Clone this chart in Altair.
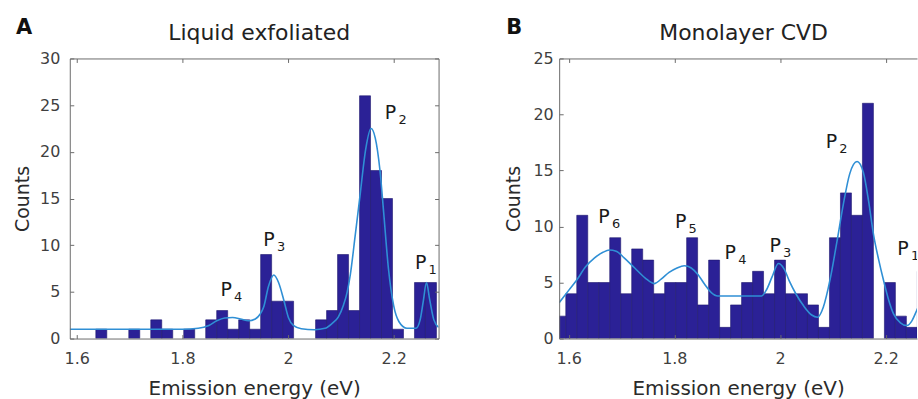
import altair as alt
import pandas as pd

FONT = "DejaVu Sans"
BAR = "#2B2196"
BAR_EDGE = "#1E176F"
FIT = "#2F8FD5"
FRAME = "#6B6B6B"

# Histogram bins shared by both samples (left edges, eV)
bin_width = 0.0208
bin_left = [1.5737, 1.5945, 1.6153, 1.6361, 1.6569, 1.6777, 1.6985, 1.7193,
            1.7401, 1.7609, 1.7817, 1.8025, 1.8233, 1.8441, 1.8649, 1.8857,
            1.9065, 1.9273, 1.9481, 1.9689, 1.9897, 2.0105, 2.0313, 2.0521,
            2.0729, 2.0937, 2.1145, 2.1353, 2.1561, 2.1769, 2.1977, 2.2185,
            2.2393, 2.2601]

# Counts per bin
counts_liquid = [0, 0, 0, 1, 0, 0, 1, 0, 2, 1, 0, 1, 0, 2, 3, 1, 2,
                 1, 9, 4, 4, 0, 0, 2, 3, 9, 3, 26, 18, 15, 1, 0, 6, 6]
counts_cvd = [2, 4, 11, 5, 5, 9, 4, 8, 7, 4, 5, 5, 9, 3, 7, 1, 3,
              5, 6, 4, 7, 4, 4, 3, 1, 9, 13, 11, 21, 0, 5, 2, 1, 6]

# Multi-peak fit curves
fit_liquid_e = [1.587, 1.80, 1.83, 1.85, 1.865, 1.88, 1.895, 1.91, 1.925, 1.938,
                1.947, 1.954, 1.963, 1.973, 1.982, 1.992, 2.001, 2.01, 2.025, 2.05,
                2.07, 2.083, 2.095, 2.105, 2.112, 2.118, 2.127, 2.136, 2.147, 2.157,
                2.165, 2.174, 2.181, 2.19, 2.2, 2.21, 2.225, 2.242, 2.25, 2.256,
                2.262, 2.268, 2.276, 2.285]
fit_liquid_c = [1.0, 1.0, 1.1, 1.4, 1.9, 2.2, 2.25, 2.1, 1.9, 2.1,
                2.6, 3.4, 5.6, 6.8, 6.0, 4.1, 2.2, 1.4, 1.05, 0.95,
                1.1, 1.6, 2.3, 3.6, 5.0, 6.9, 11.0, 15.2, 20.3, 22.5,
                21.5, 18.0, 13.5, 7.5, 3.5, 1.8, 1.1, 1.1, 2.0, 4.0,
                6.0, 4.2, 2.0, 1.2]

fit_cvd_e = [1.582, 1.600, 1.615, 1.632, 1.649, 1.665, 1.677, 1.690, 1.705, 1.725,
             1.745, 1.762, 1.775, 1.790, 1.805, 1.819, 1.832, 1.845, 1.858, 1.870,
             1.882, 1.965, 1.975, 1.985, 1.997, 2.008, 2.018, 2.030, 2.045, 2.060,
             2.071, 2.082, 2.095, 2.108, 2.120, 2.132, 2.146, 2.158, 2.168, 2.177,
             2.187, 2.196, 2.206, 2.215, 2.228, 2.240, 2.250, 2.256, 2.265]
fit_cvd_c = [3.2, 4.3, 5.2, 6.4, 7.2, 7.7, 7.9, 7.8, 7.2, 6.3,
             5.4, 4.9, 5.3, 5.9, 6.3, 6.5, 6.3, 5.7, 4.8, 4.1,
             3.8, 3.8, 4.4, 5.5, 6.7, 6.2, 5.1, 4.0, 2.9, 2.1,
             1.9, 2.8, 5.3, 8.7, 12.0, 14.7, 15.8, 14.8, 12.2, 9.3,
             7.0, 5.2, 3.4, 2.2, 1.4, 1.16, 1.6, 2.2, 3.2]

# Peak annotations (index, energy, counts)
peaks_liquid_n = ["1", "2", "3", "4"]
peaks_liquid_e = [2.251, 2.194, 1.964, 1.883]
peaks_liquid_c = [7.5, 23.5, 9.9, 4.6]
peaks_cvd_n = ["1", "2", "3", "4", "5", "6"]
peaks_cvd_e = [2.233, 2.0975, 1.991, 1.906, 1.812, 1.667]
peaks_cvd_c = [7.5, 17.0, 7.7, 7.1, 9.9, 10.35]

x_ticks = [1.6, 1.8, 2.0, 2.2]
y_ticks_liquid = [0, 5, 10, 15, 20, 25, 30]
y_ticks_cvd = [0, 5, 10, 15, 20, 25]

H = 281


def panel(letter, title, counts, fit_e, fit_c, pk_n, pk_e, pk_c, x_dom, y_max,
          y_ticks, width, title_x, right_frame, y_lab_pad, y_title_pad, letter_x):
    xs = alt.Scale(domain=x_dom, nice=False, zero=False)
    ys = alt.Scale(domain=[0, y_max], nice=False, zero=True)

    hist = pd.DataFrame({"left": bin_left,
                         "right": [v + bin_width for v in bin_left],
                         "count": counts})
    hist = hist[hist["count"] > 0]
    fit = pd.DataFrame({"e": fit_e, "c": fit_c})
    peaks = pd.DataFrame({"e": pk_e, "c": pk_c, "n": pk_n, "p": ["P"] * len(pk_n)})

    common = dict(labelFont=FONT, titleFont=FONT, domainColor=FRAME,
                  tickColor=FRAME, labelColor="#3F3F3F", titleColor="#2B2B2B",
                  grid=False, zindex=1, labelFontSize=16,
                  titleFontWeight="normal", labelOverlap=False, domainWidth=1,
                  tickWidth=1)

    bars = alt.Chart(hist).mark_bar(
        color=BAR, stroke=BAR_EDGE, strokeWidth=0.6, clip=True
    ).encode(
        x=alt.X("left:Q", scale=xs, axis=alt.Axis(
            orient="bottom", values=x_ticks, format="~g",
            title="Emission energy (eV)", titleFontSize=20, ticks=False,
            tickSize=0, labelPadding=12, titlePadding=12, labelFlush=False,
            **common)),
        x2="right:Q",
        y=alt.Y("count:Q", scale=ys, axis=alt.Axis(
            orient="left", values=y_ticks, title="Counts", titleFontSize=19,
            ticks=False, tickSize=0, labelPadding=y_lab_pad,
            titlePadding=y_title_pad, **common)),
        y2=alt.datum(0),
    )

    # inward ticks on the bottom and left edges
    curve = alt.Chart(fit).mark_line(
        color=FIT, strokeWidth=1.6, interpolate="monotone", clip=True
    ).encode(
        x=alt.X("e:Q", scale=xs, axis=alt.Axis(
            orient="top", offset=-H, values=x_ticks, labels=False, title=None,
            domain=False, tickSize=4, **common)),
        y=alt.Y("c:Q", scale=ys, axis=alt.Axis(
            orient="right", offset=-width, values=y_ticks, labels=False,
            title=None, domain=False, tickSize=4, **common)),
    )

    # top edge (and right edge when shown) with inward ticks
    y_top = alt.Axis(orient="left", offset=-width, values=y_ticks, labels=False,
                     title=None, domain=True, tickSize=4, **common) if right_frame else None
    p_text = alt.Chart(peaks).mark_text(
        font=FONT, fontSize=19, color="#1A1A1A", align="center",
        baseline="alphabetic", clip=True
    ).encode(
        x=alt.X("e:Q", scale=xs, axis=alt.Axis(
            orient="bottom", offset=-H, values=x_ticks, labels=False,
            title=None, domain=True, tickSize=4, **common)),
        y=alt.Y("c:Q", scale=ys, axis=y_top),
        text="p:N",
    )
    sub_text = alt.Chart(peaks).mark_text(
        font=FONT, fontSize=13, color="#1A1A1A", align="center",
        baseline="alphabetic", dx=12, dy=5, clip=True
    ).encode(
        x=alt.X("e:Q", scale=xs, axis=None),
        y=alt.Y("c:Q", scale=ys, axis=None),
        text="n:N",
    )

    heading = alt.Chart(pd.DataFrame({"t": [title]})).mark_text(
        font=FONT, fontSize=22, color="#222222", align="center",
        baseline="alphabetic"
    ).encode(text="t:N", x=alt.value(title_x), y=alt.value(-18.5))

    tag = alt.Chart(pd.DataFrame({"t": [letter]})).mark_text(
        font=FONT, fontSize=21, fontWeight="bold", color="#111111",
        align="left", baseline="alphabetic"
    ).encode(text="t:N", x=alt.value(letter_x), y=alt.value(-25))

    return alt.layer(bars, curve, p_text, sub_text, heading, tag).resolve_axis(
        x="independent", y="independent"
    ).properties(width=width, height=H)


liquid = panel("A", "Liquid exfoliated", counts_liquid, fit_liquid_e, fit_liquid_c,
               peaks_liquid_n, peaks_liquid_e, peaks_liquid_c,
               [1.5868, 2.2849], 30, y_ticks_liquid, 370, 190, True, 10, 7, -54)
cvd = panel("B", "Monolayer CVD", counts_cvd, fit_cvd_e, fit_cvd_c,
            peaks_cvd_n, peaks_cvd_e, peaks_cvd_c,
            [1.582, 2.2594], 25, y_ticks_cvd, 359, 185, False, 6, 9, -53)

chart = alt.hconcat(liquid, cvd, spacing=65).properties(
    padding={"left": 13, "top": 15, "right": 0, "bottom": 0}
).configure_view(stroke="transparent")

chart.save("out.html", embed_options={"renderer": "svg", "actions": False})
